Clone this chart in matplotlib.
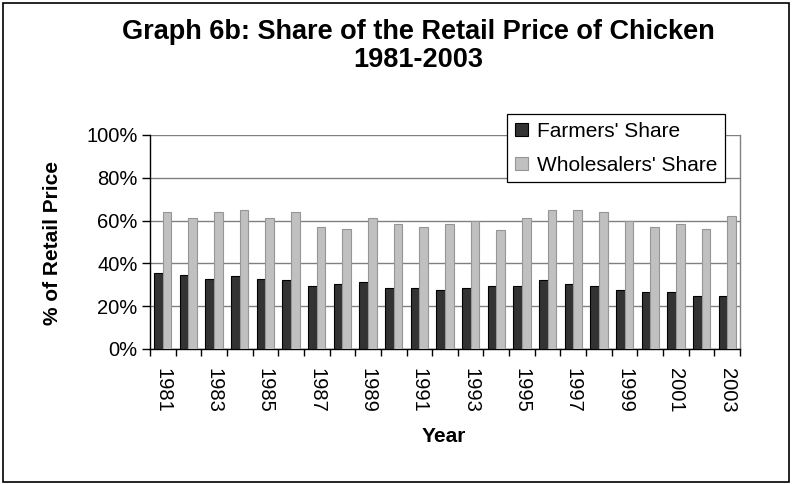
import numpy as np
import matplotlib.pyplot as plt
import matplotlib
from matplotlib.patches import Rectangle
from matplotlib.ticker import FixedLocator, FuncFormatter

matplotlib.rcParams['font.family'] = ['Liberation Sans', 'DejaVu Sans']

# Dati (% del prezzo al dettaglio)
years = list(range(1981, 2004))
farmers = [35.6, 34.7, 32.9, 34.0, 32.9, 32.1, 29.3, 30.3, 31.1, 28.4, 28.4, 27.5,
           28.4, 29.3, 29.3, 32.1, 30.3, 29.3, 27.5, 26.5, 26.5, 24.7, 24.7]
wholesalers = [63.9, 61.1, 63.9, 64.8, 61.1, 63.9, 57.2, 56.3, 61.1, 58.2, 57.2, 58.2,
               60.0, 55.5, 61.1, 64.8, 64.8, 63.9, 60.0, 57.2, 58.2, 56.3, 62.0]
series_labels = ["Farmers' Share", "Wholesalers' Share"]
title_line1 = 'Graph 6b: Share of the Retail Price of Chicken'
title_line2 = '1981-2003'

W, H = 792, 484
fig = plt.figure(figsize=(W / 100, H / 100), dpi=100)
ax = fig.add_axes([150 / W, 1 - 349 / H, 590 / W, 214 / H])

x = np.arange(len(years))
w = 0.337
b1 = ax.bar(x - w / 2, farmers, w, color='#333333', edgecolor='black', linewidth=0.8,
            label=series_labels[0], zorder=3)
b2 = ax.bar(x + w / 2, wholesalers, w, color='#c0c0c0', edgecolor='#969696', linewidth=0.8,
            label=series_labels[1], zorder=3)

ax.set_xlim(-0.5, len(years) - 0.5)
ax.set_ylim(0, 100)

# griglia e bordi stile Excel
ax.yaxis.grid(True, color='#808080', linewidth=1.0, zorder=0)
ax.set_axisbelow(True)
ax.spines['top'].set_visible(False)
ax.spines['right'].set_color('#808080')
ax.spines['right'].set_linewidth(1.0)
ax.spines['left'].set_linewidth(1.0)
ax.spines['bottom'].set_linewidth(1.0)

ax.set_yticks(np.arange(0, 101, 20))
ax.yaxis.set_major_formatter(FuncFormatter(lambda v, p: '%d%%' % v))
ax.tick_params(axis='y', direction='out', length=6, width=1, pad=3, labelsize=14.5)

ax.set_xticks(x[::2])
ax.set_xticklabels([str(y) for y in years[::2]], rotation=270)
ax.xaxis.set_minor_locator(FixedLocator(np.arange(-0.5, len(years), 1.0)))
ax.tick_params(axis='x', which='major', length=0, pad=14, labelsize=14.5)
ax.tick_params(axis='x', which='minor', direction='out', length=5, width=1)

leg = ax.legend(loc='upper left', bbox_to_anchor=(0.6056, 1.098), borderaxespad=0,
                fontsize=15, frameon=True, fancybox=False, shadow=False,
                handlelength=0.6, handleheight=0.6, handletextpad=0.45,
                labelspacing=0.7, borderpad=0.38)
leg.get_frame().set_edgecolor('black')
leg.get_frame().set_linewidth(0.9)
leg.get_frame().set_alpha(1)

fig.text(418 / W, 1 - 39.3 / H, title_line1, ha='center', va='baseline',
         fontsize=19.5, fontweight='bold')
fig.text(418 / W, 1 - 66.7 / H, title_line2, ha='center', va='baseline',
         fontsize=19.5, fontweight='bold')
fig.text(52 / W, 1 - 243 / H, '% of Retail Price', ha='center', va='center',
         rotation=90, fontsize=15, fontweight='bold')
fig.text(444 / W, 1 - 436 / H, 'Year', ha='center', va='center',
         fontsize=15, fontweight='bold')

fig.patches.append(Rectangle((2.5 / W, 2.5 / H), (W - 6) / W, (H - 5) / H,
                             transform=fig.transFigure, fill=False,
                             edgecolor='black', linewidth=1.2))

fig.savefig('out.png', dpi=100)
